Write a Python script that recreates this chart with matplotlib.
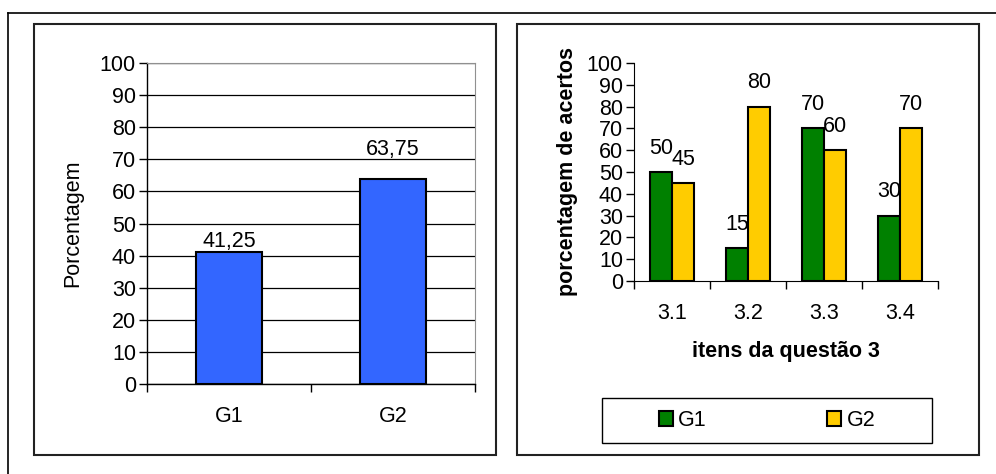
import matplotlib
matplotlib.use("Agg")
import matplotlib.pyplot as plt
from matplotlib.patches import Rectangle, Patch
from matplotlib.lines import Line2D
from matplotlib.ticker import FixedLocator

plt.rcParams['font.family'] = ['Liberation Sans', 'DejaVu Sans']

# dados
grupos = ['G1', 'G2']
media = [41.25, 63.75]
media_txt = ['41,25', '63,75']

itens = ['3.1', '3.2', '3.3', '3.4']
g1 = [50, 15, 70, 30]
g2 = [45, 80, 60, 70]

W, H = 996, 474
FS = 15.5
fig = plt.figure(figsize=(W / 100, H / 100), dpi=100)


def fx(px):
    return px / W


def fy(py):
    return 1 - py / H


# moldura externa
fig.add_artist(Line2D([fx(8), 1], [fy(13), fy(13)], color='black', lw=1.2))
fig.add_artist(Line2D([fx(8), fx(8)], [fy(13), 0], color='black', lw=1.2))

# caixas dos graficos
for x0, x1 in [(34, 496), (517, 979)]:
    fig.add_artist(Rectangle((fx(x0), fy(455)), fx(x1 - x0), (455 - 24) / H,
                             fill=False, edgecolor='#222222', lw=1.5))

# ---- grafico da esquerda
ax = fig.add_axes([fx(147), fy(384), fx(475 - 147), (384 - 63) / H])
pos = range(len(grupos))
ax.bar(pos, media, width=0.4, color='#3366FF', edgecolor='black', lw=1.5, zorder=3)
ax.set_xlim(-0.5, 1.5)
ax.set_ylim(0, 100)
ax.set_yticks(range(0, 101, 10))
ax.yaxis.grid(True, color='black', lw=0.9, zorder=0)
ax.set_xticks(list(pos))
ax.set_xticklabels(grupos)
ax.xaxis.set_minor_locator(FixedLocator([-0.5, 0.5, 1.5]))
ax.tick_params(axis='x', which='major', length=0, pad=16, labelsize=FS)
ax.tick_params(axis='x', which='minor', length=6, width=1, direction='out')
ax.tick_params(axis='y', length=6, width=1, labelsize=FS, pad=2)
ax.spines['top'].set_color('#909090')
ax.spines['right'].set_color('#909090')
ax.spines['left'].set_linewidth(1)
ax.spines['bottom'].set_linewidth(1)
ax.set_ylabel('Porcentagem', fontsize=FS, labelpad=12)
offs = [10, 30]
for i, v in enumerate(media):
    ax.annotate(media_txt[i], (i, v), xytext=(0, offs[i] * 0.72), textcoords='offset points',
                ha='center', va='center', fontsize=FS)

# ---- grafico da direita
ax2 = fig.add_axes([fx(634), fy(281), fx(938 - 634), (281 - 63) / H])
xs = range(len(itens))
w = 0.29
b1 = ax2.bar([x - w / 2 for x in xs], g1, width=w, color='#008000', edgecolor='black', lw=1.5)
b2 = ax2.bar([x + w / 2 for x in xs], g2, width=w, color='#FFCC00', edgecolor='black', lw=1.5)
ax2.set_xlim(-0.5, 3.5)
ax2.set_ylim(0, 100)
ax2.set_yticks(range(0, 101, 10))
ax2.set_xticks(list(xs))
ax2.set_xticklabels(itens)
ax2.xaxis.set_minor_locator(FixedLocator([-0.5, 0.5, 1.5, 2.5, 3.5]))
ax2.tick_params(axis='x', which='major', length=0, pad=16, labelsize=FS)
ax2.tick_params(axis='x', which='minor', length=6, width=1, direction='out')
ax2.tick_params(axis='y', length=6, width=1, labelsize=FS, pad=2)
ax2.spines['top'].set_visible(False)
ax2.spines['right'].set_visible(False)
ax2.set_ylabel('porcentagem de acertos', fontsize=FS, fontweight='bold', labelpad=6)
ax2.set_xlabel('itens da questão 3', fontsize=FS, fontweight='bold', labelpad=12)
for bars, vals in [(b1, g1), (b2, g2)]:
    for r, v in zip(bars, vals):
        ax2.annotate(str(v), (r.get_x() + r.get_width() / 2, v), xytext=(0, 17),
                     textcoords='offset points', ha='center', va='center', fontsize=FS)

# legenda
fig.add_artist(Rectangle((fx(602), fy(443)), fx(932 - 602), (443 - 398) / H,
                         fill=False, edgecolor='black', lw=1))
handles = [Patch(facecolor='#008000', edgecolor='black', lw=1.5),
           Patch(facecolor='#FFCC00', edgecolor='black', lw=1.5)]
leg = fig.legend(handles, ['G1', 'G2'], loc='center',
                 bbox_to_anchor=(fx(767), fy(420.5)),
                 ncol=2, fontsize=FS, frameon=False,
                 handlelength=0.65, handleheight=0.65, handletextpad=0.25,
                 columnspacing=5.6)

fig.savefig('out.png', dpi=100)
